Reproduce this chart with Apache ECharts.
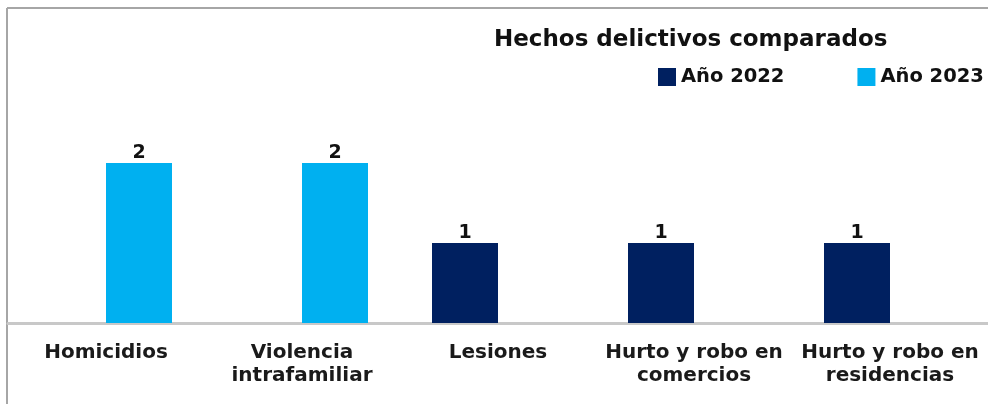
<!DOCTYPE html>
<html>
<head>
<meta charset="utf-8">
<script src="https://cdn.jsdelivr.net/npm/echarts@6/dist/echarts.min.js"></script>
<style>
html, body { margin: 0; padding: 0; background: #ffffff; }
#chart { width: 988px; height: 404px; }
</style>
</head>
<body>
<div id="chart"></div>
<script>
// categorias y valores
var categorias = ['Homicidios', 'Violencia\nintrafamiliar', 'Lesiones', 'Hurto y robo en\ncomercios', 'Hurto y robo en\nresidencias'];
var serieNombres = ['Año 2022', 'Año 2023'];
var datos2022 = [0, 0, 1, 1, 1];
var datos2023 = [2, 2, 0, 0, 0];

var chart = echarts.init(document.getElementById('chart'), null, { renderer: 'canvas' });

var fuente = 'DejaVu Sans';
function etiqueta(p) {
  return p.value ? String(p.value) : '';
}

var option = {
  backgroundColor: '#ffffff',
  animation: false,
  title: {
    text: 'Hechos delictivos comparados',
    left: 489,
    top: 24,
    textStyle: { fontFamily: fuente, fontSize: 23, fontWeight: 'bold', color: '#111111' }
  },
  legend: {
    data: serieNombres,
    left: 658,
    top: 67,
    padding: 0,
    icon: 'rect',
    itemWidth: 18,
    itemHeight: 18,
    itemGap: 73,
    textStyle: { fontFamily: fuente, fontSize: 19.5, fontWeight: 'bold', color: '#111111' }
  },
  grid: { left: 8, top: 83, width: 983, bottom: 81 },
  xAxis: {
    type: 'category',
    data: categorias,
    axisLine: { lineStyle: { color: '#c8c8c8', width: 3 } },
    axisTick: { show: false },
    axisLabel: {
      interval: 0,
      margin: 18,
      fontFamily: fuente,
      fontSize: 20,
      fontWeight: 'bold',
      color: '#1a1a1a',
      lineHeight: 23
    }
  },
  yAxis: {
    type: 'value',
    min: 0,
    max: 3,
    interval: 1,
    show: false,
    splitLine: { show: false }
  },
  series: [
    {
      name: serieNombres[0],
      type: 'bar',
      data: datos2022,
      barWidth: 66,
      barGap: '0%',
      itemStyle: { color: '#002060' },
      label: { show: true, position: 'top', distance: 0, formatter: etiqueta, fontFamily: fuente, fontSize: 19, fontWeight: 'bold', color: '#111111' }
    },
    {
      name: serieNombres[1],
      type: 'bar',
      data: datos2023,
      barWidth: 66,
      barGap: '0%',
      itemStyle: { color: '#00b0f0' },
      label: { show: true, position: 'top', distance: 0, formatter: etiqueta, fontFamily: fuente, fontSize: 19, fontWeight: 'bold', color: '#111111' }
    }
  ],
  graphic: [
    { type: 'line', shape: { x1: 7, y1: 8, x2: 7, y2: 404 }, style: { stroke: '#a6a6a6', lineWidth: 2 } },
    { type: 'line', shape: { x1: 7, y1: 8, x2: 988, y2: 8 }, style: { stroke: '#a6a6a6', lineWidth: 2 } }
  ]
};

chart.setOption(option);
window.addEventListener('resize', function () { chart.resize(); });
</script>
</body>
</html>
